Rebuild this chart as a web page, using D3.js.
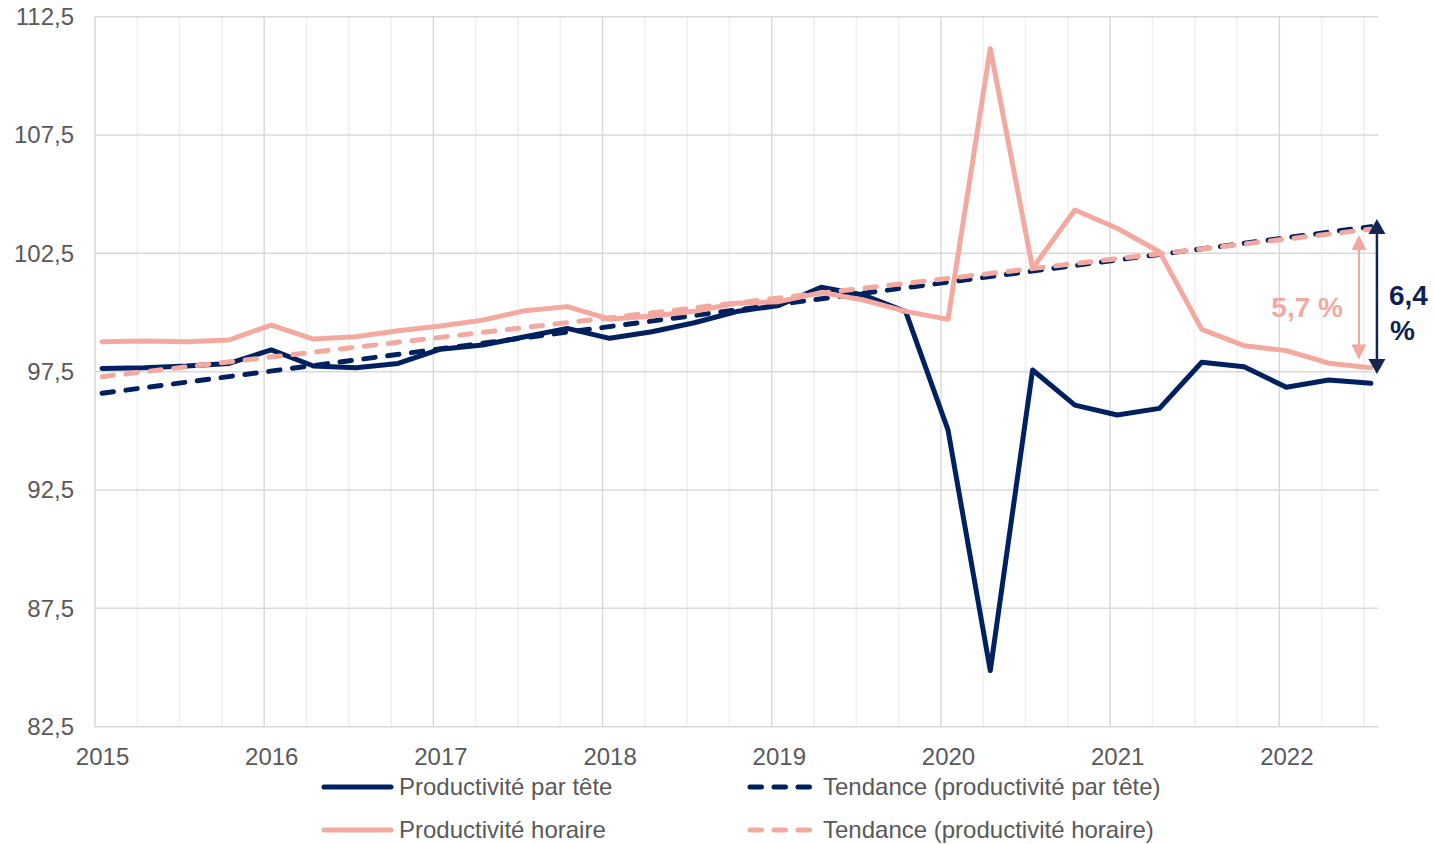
<!DOCTYPE html>
<html><head><meta charset="utf-8">
<script src="https://cdn.jsdelivr.net/npm/d3@7"></script>
<style>
body{margin:0;background:#fff}
svg{display:block;font-family:"Liberation Sans",Arial,sans-serif}
</style>
</head><body>
<svg id="c" width="1434" height="844"></svg>
<script>
// ---- data ----
const quarters = ["2015-T1","2015-T2","2015-T3","2015-T4",
  "2016-T1","2016-T2","2016-T3","2016-T4",
  "2017-T1","2017-T2","2017-T3","2017-T4",
  "2018-T1","2018-T2","2018-T3","2018-T4",
  "2019-T1","2019-T2","2019-T3","2019-T4",
  "2020-T1","2020-T2","2020-T3","2020-T4",
  "2021-T1","2021-T2","2021-T3","2021-T4",
  "2022-T1","2022-T2","2022-T3"];
const parTete = [97.64,97.67,97.74,97.85,98.42,97.74,97.67,97.85,98.45,98.63,98.98,99.33,98.91,99.19,99.57,100.04,
  100.30,101.07,100.74,100.04,95.04,84.87,97.57,96.09,95.67,95.95,97.90,97.71,96.84,97.15,97.01];
const horaire = [98.77,98.80,98.77,98.84,99.47,98.88,98.98,99.23,99.43,99.68,100.08,100.25,99.72,99.85,100.05,100.39,
  100.46,100.84,100.53,100.05,99.71,111.16,101.87,104.33,103.56,102.57,99.29,98.60,98.39,97.86,97.67];
const trendQuarters = ["2015-T1","2022-T3"];
const trendParTete = [96.59,103.63];
const trendHoraire = [97.29,103.52];
const yTicks = [82.5,87.5,92.5,97.5,102.5,107.5,112.5];
const yearLabels = ["2015","2016","2017","2018","2019","2020","2021","2022"];
const gapParTete = [103.95,97.40];
const gapHoraire = [103.28,98.02];
const gapParTeteLabel = ["6,4","%"];
const gapHoraireLabel = "5,7 %";
const seriesNames = ["Productivité par tête","Tendance (productivité par tête)","Productivité horaire","Tendance (productivité horaire)"];

// ---- setup ----
const NAVY = "#002060", PINK = "#F4A9A0", GRID = "#d9d9d9", MINOR = "#efefef", TXT = "#595959";
const FS = "24px";
const svg = d3.select("#c");
svg.append("rect").attr("width",1434).attr("height",844).attr("fill","#fff");
const L = 95, R = 1378, T = 16.7, B = 726.7;
const startYear = 2015, nMonths = 91; // Jan 2015 .. Jul 2022, monthly base
const x = d3.scaleLinear().domain([0,nMonths]).range([L,R]);
const y = d3.scaleLinear().domain([82.5,112.5]).range([B,T]);
const monthOf = q => { const [yy,t] = q.split("-T"); return (+yy-startYear)*12 + (+t-1)*3; };
const px = q => x(monthOf(q)+0.5);

// vertical grid (quarters, yearly majors)
const qBounds = d3.range(0,nMonths,3);
const gx = svg.append("g");
gx.selectAll("line").data(qBounds.filter(m=>m%12!==0)).join("line")
  .attr("x1",d=>x(d)).attr("x2",d=>x(d)).attr("y1",T).attr("y2",B)
  .attr("stroke",MINOR).attr("stroke-width",1.5);
gx.append("g").selectAll("line").data(qBounds.filter(m=>m%12===0)).join("line")
  .attr("x1",d=>x(d)).attr("x2",d=>x(d)).attr("y1",T).attr("y2",B)
  .attr("stroke",GRID).attr("stroke-width",1.5);
// horizontal grid
svg.append("g").selectAll("line").data(yTicks).join("line")
  .attr("x1",L).attr("x2",R).attr("y1",d=>y(d)).attr("y2",d=>y(d))
  .attr("stroke",GRID).attr("stroke-width",1.5);

// y axis labels
const yAxis = d3.axisLeft(y).tickValues(yTicks).tickSize(0).tickPadding(21)
  .tickFormat(d=>d.toFixed(1).replace(".",","));
const ya = svg.append("g").attr("transform",`translate(${L},0)`).call(yAxis);
ya.select(".domain").remove();
ya.selectAll("text").attr("fill",TXT).style("font-size",FS).style("font-family","'Liberation Sans',Arial,sans-serif");

// x axis labels (years, centred on January band)
const xAxis = d3.axisBottom(x).tickValues(yearLabels.map(yl=>(+yl-startYear)*12+0.5))
  .tickSize(0).tickPadding(21).tickFormat((d,i)=>yearLabels[i]);
const xa = svg.append("g").attr("transform",`translate(0,${B})`).call(xAxis);
xa.select(".domain").remove();
xa.selectAll("text").attr("fill",TXT).style("font-size",FS).style("font-family","'Liberation Sans',Arial,sans-serif");

// lines
const line = d3.line().x(d=>d[0]).y(d=>y(d[1]));
const dash = "11.5,12.5";
const LW = 5;
function draw(qs, vals, color, dashed){
  svg.append("path").datum(qs.map((q,i)=>[px(q),vals[i]]))
    .attr("d",line).attr("fill","none").attr("stroke",color).attr("stroke-width",LW)
    .attr("stroke-linejoin","round").attr("stroke-linecap","round")
    .attr("stroke-dasharray",dashed?dash:null);
}
draw(quarters,parTete,NAVY,false);
draw(trendQuarters,trendParTete,NAVY,true);
draw(quarters,horaire,PINK,false);
draw(trendQuarters,trendHoraire,PINK,true);

// gap arrows
const lastX = px(quarters[quarters.length-1]);
function arrow(xp, vals, color, w, hw, hl){
  const y1 = y(vals[0]), y2 = y(vals[1]);
  svg.append("line").attr("x1",xp).attr("x2",xp).attr("y1",y1+hl-1).attr("y2",y2-hl+1)
    .attr("stroke",color).attr("stroke-width",w);
  svg.append("path").attr("d",`M${xp},${y1} L${xp+hw/2},${y1+hl} L${xp-hw/2},${y1+hl} Z`).attr("fill",color);
  svg.append("path").attr("d",`M${xp},${y2} L${xp+hw/2},${y2-hl} L${xp-hw/2},${y2-hl} Z`).attr("fill",color);
}
arrow(lastX+6, gapParTete, "#14254f", 2.5, 17, 15);
arrow(lastX-12, gapHoraire, PINK, 2.2, 15, 15);
svg.append("text").attr("x",lastX-28).attr("y",317).attr("text-anchor","end")
  .attr("fill",PINK).style("font-size","28px").style("font-weight","bold").text(gapHoraireLabel);
svg.append("text").attr("x",lastX+18).attr("y",305)
  .attr("fill","#0f1f56").style("font-size","28px").style("font-weight","bold").text(gapParTeteLabel[0]);
svg.append("text").attr("x",lastX+19).attr("y",340)
  .attr("fill","#0f1f56").style("font-size","28px").style("font-weight","bold").text(gapParTeteLabel[1]);

// legend
const legend = [
  {name:seriesNames[0],color:NAVY,dashed:false,lx:324,ly:787},
  {name:seriesNames[1],color:NAVY,dashed:true,lx:750,ly:787},
  {name:seriesNames[2],color:PINK,dashed:false,lx:324,ly:830},
  {name:seriesNames[3],color:PINK,dashed:true,lx:750,ly:830}
];
legend.forEach(d=>{
  const len = d.dashed?60:67;
  svg.append("line").attr("x1",d.lx).attr("x2",d.lx+len).attr("y1",d.ly).attr("y2",d.ly)
    .attr("stroke",d.color).attr("stroke-width",LW).attr("stroke-linecap","round")
    .attr("stroke-dasharray",d.dashed?dash:null);
  svg.append("text").attr("x",d.dashed?d.lx+73:d.lx+75).attr("y",d.ly).attr("dy","0.35em")
    .attr("fill",TXT).style("font-size",FS).text(d.name);
});
</script>
</body></html>
